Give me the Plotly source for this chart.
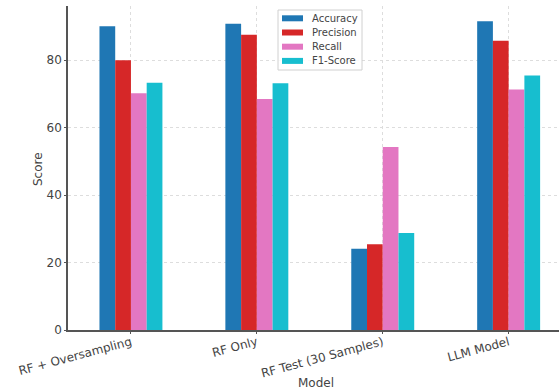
import plotly.graph_objects as go

models = ["RF + Oversampling", "RF Only", "RF Test (30 Samples)", "LLM Model"]
accuracy = [90.1, 90.8, 24.1, 91.6]
precision = [80.0, 87.6, 25.4, 85.8]
recall = [70.2, 68.5, 54.3, 71.3]
f1_score = [73.3, 73.2, 28.8, 75.5]

series = [
    ("Accuracy", accuracy, "#1f77b4"),
    ("Precision", precision, "#d62728"),
    ("Recall", recall, "#e377c2"),
    ("F1-Score", f1_score, "#17becf"),
]

W, H = 559, 391
L, R, T, B = 68, 0, 6, 61
pw, ph = W - L - R, H - T - B

def px_x(x):
    return (x - L) / pw

def px_y(y):
    return (H - B - y) / ph

fig = go.Figure()
for name, vals, color in series:
    fig.add_trace(go.Bar(x=models, y=vals, name=name, showlegend=False,
                         marker=dict(color=color, line=dict(width=0))))

# custom compact legend (matplotlib style)
shapes = [dict(type="rect", xref="paper", yref="paper",
               x0=px_x(278), x1=px_x(362), y0=px_y(70), y1=px_y(10),
               line=dict(color="#d0d0d0", width=1), fillcolor="rgba(255,255,255,0.85)", layer="above")]
annotations = []
for i, (name, vals, color) in enumerate(series):
    cy = 18.3 + i * 14.2
    shapes.append(dict(type="rect", xref="paper", yref="paper",
                       x0=px_x(282), x1=px_x(303), y0=px_y(cy + 3), y1=px_y(cy - 3),
                       line=dict(width=0), fillcolor=color, layer="above"))
    annotations.append(dict(xref="paper", yref="paper", x=px_x(310), y=px_y(cy),
                            xanchor="left", yanchor="middle", text=name, showarrow=False,
                            font=dict(size=10, color="#444444")))

annotations.append(dict(xref="paper", yref="paper", x=px_x(316), y=px_y(383),
                        xanchor="center", yanchor="middle", text="Model", showarrow=False,
                        font=dict(size=12, color="#444444")))
annotations.append(dict(xref="paper", yref="paper", x=px_x(38), y=px_y(169),
                        xanchor="center", yanchor="middle", text="Score", showarrow=False,
                        textangle=-90, font=dict(size=12, color="#444444")))

font = "DejaVu Sans"
fig.update_layout(
    width=W, height=H,
    margin=dict(l=L, r=R, t=T, b=B),
    paper_bgcolor="white", plot_bgcolor="white",
    barmode="group", bargap=0.5, bargroupgap=0,
    font=dict(family=font, size=12, color="#444444"),
    showlegend=False,
    shapes=shapes, annotations=annotations,
)
fig.update_xaxes(
    range=[-0.5, 3.4], tickangle=-15, automargin=False,
    showgrid=True, gridcolor="#dddddd", griddash="dot", gridwidth=1,
    showline=True, linecolor="#555555", linewidth=1.5,
    ticks="outside", ticklen=2, tickcolor="#555555",
    ticklabelstandoff=-3,
    tickfont=dict(size=12),
)
fig.update_yaxes(
    range=[0, 96.1], tickvals=[0, 20, 40, 60, 80], automargin=False,
    showgrid=True, gridcolor="#dddddd", griddash="dot", gridwidth=1,
    showline=True, linecolor="#555555", linewidth=1.5,
    ticks="outside", ticklen=2, tickcolor="#555555",
    zeroline=False,
    tickfont=dict(size=12),
)
fig.write_html("out.html", config={"displayModeBar": False},
               post_script="document.body.style.margin='0';document.body.style.padding='0';")
